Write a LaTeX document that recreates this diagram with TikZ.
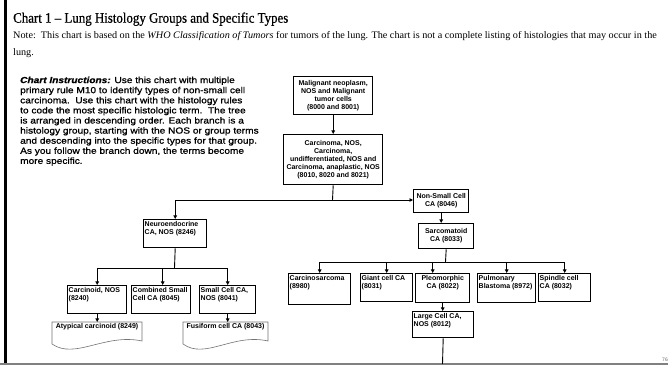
\documentclass[tikz,border=0pt]{standalone}
\usepackage{fontspec}
\setmainfont{Liberation Serif}
\newfontfamily\titlefnt[FakeStretch=0.89,FakeBold=0.6]{Liberation Serif}
\newfontfamily\notefnt[FakeStretch=1.02]{Liberation Serif}
\newfontfamily\instrfnt[FakeStretch=1.15,FakeBold=1]{Liberation Sans}
\newfontfamily\boxfnt{Liberation Sans}
\usetikzlibrary{arrows.meta}
\newcommand{\bxfont}{\boxfnt\bfseries\fontsize{7}{8}\selectfont}
\tikzset{
  conn/.style={line width=0.9pt, draw=black},
  arr/.style={conn, -{Triangle[length=3.5pt,width=3.5pt]}},
  hbox/.style={draw=black, line width=1.4pt, inner sep=0pt, anchor=north west},
  docline/.style={draw=black!55, line width=0.6pt},
  doctext/.style={inner sep=1.5pt, anchor=north, font=\bxfont},
}
% name, x, y, w, h, align (l/c), top pad, text
\newcommand{\hbx}[8]{%
  \node[hbox, minimum width=#4pt, minimum height=#5pt] (#1) at (#2,#3)
  {\parbox[c][#5pt][t]{\dimexpr#4pt-2pt\relax}{\vspace*{#7pt}\bxfont\if#6c\centering\else\raggedright\fi
   \begin{tabular}[t]{@{}#6@{}}#8\end{tabular}\par}};}
\begin{document}
\begin{tikzpicture}[x=1pt,y=-1pt]
\useasboundingbox (0,0) rectangle (670,366);
\fill[white] (0,0) rectangle (670,366);
% frame
\draw[line width=3pt] (5,0) -- (5,364);
\draw[black!50, line width=1.3pt] (0,364) -- (668,364);
\node[anchor=base east, inner sep=0, text=black!60, font=\boxfnt\fontsize{5}{5}\selectfont] (pg) at (668,362) {76};
% header
\node[anchor=base west, inner sep=0, font=\titlefnt\fontsize{14.5}{16}\selectfont] (title) at (13,22.7) {Chart 1 – Lung Histology Groups and Specific Types};
\node[anchor=base west, inner sep=0, font=\notefnt\fontsize{10}{12}\selectfont] (note) at (13,38.3) {Note:\ \ This chart is based on the \textit{WHO Classification of Tumors} for tumors of the lung. The chart is not a complete listing of histologies that may occur in the};
\node[anchor=base west, inner sep=0, font=\notefnt\fontsize{10}{12}\selectfont] (note2) at (13,56) {lung.};
\node[anchor=north west, inner sep=0, align=left, font=\instrfnt\fontsize{8.8}{10.1}\selectfont] (instr) at (20,76.5)
{{\bfseries\itshape Chart Instructions:} Use this chart with multiple\\
primary rule M10 to identify types of non-small cell\\
carcinoma.\ \ Use this chart with the histology rules\\
to code the most specific histologic term.\ \ The tree\\
is arranged in descending order. Each branch is a\\
histology group, starting with the NOS or group terms\\
and descending into the specific types for that group.\\
As you follow the branch down, the terms become\\
more specific.};
% boxes
\hbx{mal}{293}{76}{79}{38}{c}{3.5}{Malignant neoplasm,\\NOS and Malignant\\tumor cells\\(8000 and 8001)}
\hbx{carc}{283}{134}{99}{50}{c}{5}{Carcinoma, NOS,\\Carcinoma,\\undifferentiated, NOS and\\Carcinoma, anaplastic, NOS\\(8010, 8020 and 8021)}
\hbx{neuro}{143}{219}{63}{28}{l}{1.5}{Neuroendocrine\\CA, NOS (8246)}
\hbx{nsc}{413}{189}{55}{23}{c}{3.5}{Non-Small Cell\\CA (8046)}
\hbx{sarc}{418}{223}{55}{25}{c}{4}{Sarcomatoid\\CA (8033)}
\hbx{carcd}{67}{285}{59}{28}{l}{1.5}{Carcinoid, NOS\\(8240)}
\hbx{comb}{131}{285}{59}{28}{l}{1.5}{Combined Small\\Cell CA (8045)}
\hbx{small}{199}{285}{56}{28}{l}{1.5}{Small Cell CA,\\NOS (8041)}
\hbx{csarc}{288}{273}{62}{31}{l}{1.5}{Carcinosarcoma\\(8980)}
\hbx{giant}{360}{273}{52}{28}{l}{1.5}{Giant cell CA\\(8031)}
\hbx{pleo}{415}{273}{54}{29}{c}{1.5}{Pleomorphic\\CA (8022)}
\hbx{pulm}{477}{273}{58}{29}{l}{1.5}{Pulmonary\\Blastoma (8972)}
\hbx{spin}{538}{273}{52}{28}{l}{1.5}{Spindle cell\\CA (8032)}
\hbx{large}{412}{311}{61}{26}{l}{1.5}{Large Cell CA,\\NOS (8012)}
% document shapes
\draw[docline] (52,322) -- (142,322) -- (142,341) .. controls (105,333) and (75,360) .. (52,344) -- cycle;
\draw[docline] (183,322) -- (268,322) -- (268,341) .. controls (233,333) and (205,360) .. (183,344) -- cycle;
\node[doctext] (atyp) at (97,322) {Atypical carcinoid (8249)};
\node[doctext] (fusi) at (225.5,322) {Fusiform cell CA (8043)};
% junctions
\coordinate (j1) at (332.5,200);
\coordinate (j2) at (174.5,268);
\coordinate (j3) at (445.5,262);
\coordinate (lend) at (442.5,364);
% connectors
\draw[arr] (mal.south) -- (carc.north);
\draw[conn] (carc.south) -- (j1);
\draw[arr] (j1) -| (neuro.north);
\draw[arr] (j1) -- (nsc.west |- j1);
\draw[arr] (nsc.south) -- (nsc.south |- sarc.north);
\draw[conn] (neuro.south) -- (j2);
\draw[arr] (j2) -| (carcd.north);
\draw[arr] (j2) -| ([xshift=1.5pt]comb.north);
\draw[arr] (j2) -| (small.north);
\draw[arr] (carcd.south) -- (carcd.south |- atyp.north);
\draw[arr] (small.south) -- (small.south |- fusi.north);
\draw[conn] (sarc.south) -- (j3);
\draw[arr] (j3) -| (csarc.north);
\draw[arr] (j3) -| (giant.north);
\draw[arr] (j3) -| ([xshift=-10pt]pleo.north);
\draw[arr] (j3) -| (pulm.north);
\draw[arr] (j3) -| (spin.north);
\draw[arr] (pleo.south) -- (pleo.south |- large.north);
\draw[conn] (large.south) -- (lend);
\end{tikzpicture}
\end{document}
